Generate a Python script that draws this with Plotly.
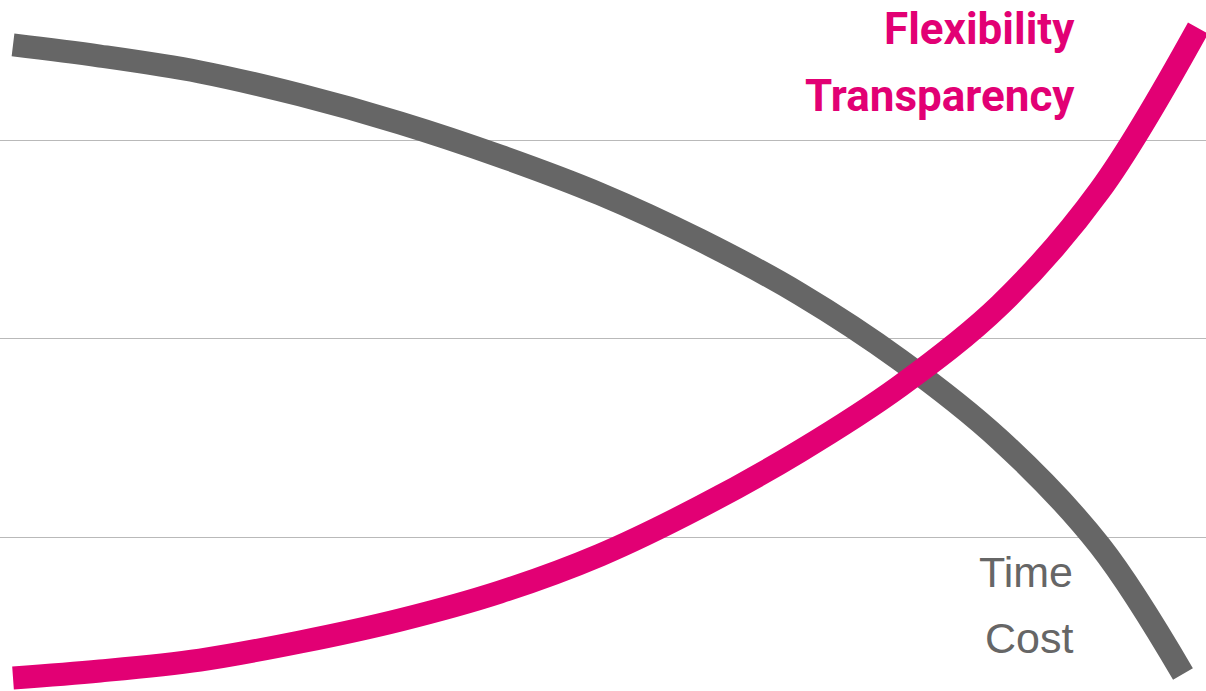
import plotly.graph_objects as go

# Data (x: 0-100 across the chart, y: gridlines at 1, 2, 3)
time_cost_x = [1.08, 8.29, 16.58, 24.88, 33.17, 41.46, 49.75, 58.04, 66.33, 74.63,
               82.92, 91.21, 98.09]
time_cost_y = [3.479, 3.423, 3.343, 3.227, 3.086, 2.919, 2.728, 2.496, 2.224, 1.892,
               1.489, 0.955, 0.310]

flex_x = [1.08, 8.29, 16.58, 24.88, 33.17, 41.46, 49.75, 58.04, 66.33, 74.63,
          82.92, 91.21, 99.34]
flex_y = [0.290, 0.325, 0.380, 0.471, 0.582, 0.723, 0.909, 1.151, 1.433, 1.761,
          2.169, 2.748, 3.564]

grid_vals = [1, 2, 3]
labels_top = ["Flexibility", "Transparency"]
labels_bottom = ["Time", "Cost"]

GRAY = "#666666"
MAGENTA = "#E20074"

fig = go.Figure()
fig.add_trace(go.Scatter(x=time_cost_x, y=time_cost_y, mode="lines",
                         line=dict(color=GRAY, width=23, shape="spline", smoothing=1.0),
                         hoverinfo="skip", showlegend=False))
fig.add_trace(go.Scatter(x=flex_x, y=flex_y, mode="lines",
                         line=dict(color=MAGENTA, width=23, shape="spline", smoothing=1.0),
                         hoverinfo="skip", showlegend=False))

top_y = [29 / 691, 95.5 / 691]
bot_y = [572 / 691, 637.5 / 691]
for lab, yy in zip(labels_top, top_y):
    fig.add_annotation(text=lab, xref="paper", yref="paper", x=1077 / 1206, y=1 - yy,
                       xanchor="right", yanchor="middle", showarrow=False,
                       font=dict(family="Roboto", size=44, color=MAGENTA, weight=700))
for lab, yy in zip(labels_bottom, bot_y):
    fig.add_annotation(text=lab, xref="paper", yref="paper", x=1075 / 1206, y=1 - yy,
                       xanchor="right", yanchor="middle", showarrow=False,
                       font=dict(family="Liberation Sans", size=43, color=GRAY))

fig.update_layout(
    width=1206, height=691,
    margin=dict(l=0, r=0, t=0, b=0, pad=0),
    paper_bgcolor="white", plot_bgcolor="white",
    xaxis=dict(range=[0, 100], showgrid=False, zeroline=False, showticklabels=False,
               showline=False, fixedrange=True),
    yaxis=dict(range=[0.2242, 3.7053], tickvals=grid_vals, showgrid=True,
               gridcolor="#B9B9B9", gridwidth=1, zeroline=False, showticklabels=False,
               showline=False, fixedrange=True),
)

fig.write_html("out.html", config={"displayModeBar": False},
               post_script="document.body.style.margin='0';document.body.style.overflow='hidden';")
